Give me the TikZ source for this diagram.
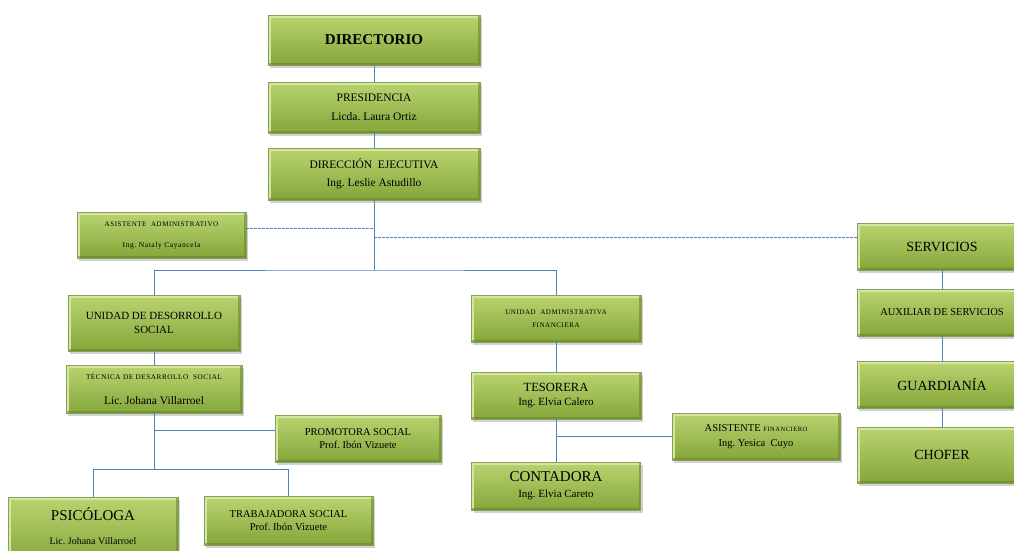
\documentclass[tikz,border=0pt]{standalone}
\usepackage{fontspec}
\setmainfont{Liberation Serif}
\usetikzlibrary{shadows}
\definecolor{lnblue}{RGB}{79,129,189}
\definecolor{gtop}{RGB}{186,212,112}
\definecolor{gbot}{RGB}{132,166,58}
\definecolor{glight}{RGB}{212,230,160}
\definecolor{gdark}{RGB}{105,135,45}
\newcommand{\tinycaps}[1]{\fontsize{#1}{8}\selectfont\addfontfeature{LetterSpace=8}}
\newcommand{\plainsize}[1]{\fontsize{#1}{13}\selectfont\addfontfeature{LetterSpace=0}}
\tikzset{
 box/.style={rectangle, inner sep=2pt, align=center, top color=gtop, bottom color=gbot,
   draw=gdark!80, line width=0.4pt,
   drop shadow={shadow xshift=2pt, shadow yshift=-2.5pt, opacity=0.35},
   path picture={\draw[glight, line width=5pt] (path picture bounding box.south west) |- (path picture bounding box.north east);
                 \draw[gdark, line width=4pt, opacity=.6] (path picture bounding box.south west) -| (path picture bounding box.north east);}},
 wh/.style 2 args={minimum width=#1pt, minimum height=#2pt},
 conn/.style={draw=lnblue, line width=0.9pt},
 dconn/.style={conn, dash pattern=on 2.5pt off 1.5pt},
}
\begin{document}
\begin{tikzpicture}[x=1pt,y=-1pt]
\path[use as bounding box, fill=white] (0,0) rectangle (1014,550);
\clip (0,0) rectangle (1014,550);

\node[box, wh={212}{50}, font=\fontsize{15}{18}\selectfont\bfseries] (dir) at (374,40) {DIRECTORIO};
\node[box, wh={212}{51}, font=\fontsize{11.5}{19}\selectfont] (pres) at (374,107.5) {PRESIDENCIA\\Licda.\ Laura Ortiz};
\node[box, wh={212}{52}, font=\fontsize{11.5}{18}\selectfont] (dej) at (374,174) {DIRECCIÓN\ \ EJECUTIVA\\Ing.\ Leslie Astudillo};
\node[box, wh={169}{46}, font=\tinycaps{7}] (asis) at (161.5,235) {ASISTENTE\ \ ADMINISTRATIVO\\[13pt]{\fontsize{7.5}{8}\selectfont Ing.\ Nataly Cayancela}};

\node[box, wh={170}{47}, font=\fontsize{14}{16}\selectfont] (serv) at (942,246.5) {SERVICIOS};
\node[box, wh={170}{47}, font=\fontsize{10.5}{12}\selectfont] (aux) at (942,312.5) {AUXILIAR DE SERVICIOS};
\node[box, wh={170}{47}, font=\fontsize{14}{16}\selectfont] (guard) at (942,384.5) {GUARDIANÍA};
\node[box, wh={170}{56}, font=\fontsize{14}{16}\selectfont] (chof) at (942,455) {CHOFER};

\node[box, wh={172}{56}, font=\fontsize{11}{14}\selectfont] (uds) at (154,323) {UNIDAD DE DESORROLLO\\SOCIAL};
\node[box, wh={176}{48}, font=\tinycaps{7.2}] (tec) at (154,389) {TÉCNICA DE DESARROLLO\ \ SOCIAL\\[15pt]{\plainsize{11.5}Lic.\ Johana Villarroel}};
\node[box, wh={166}{47}, font=\fontsize{10.5}{12.5}\selectfont] (prom) at (358,438.5) {PROMOTORA SOCIAL\\Prof.\ Ibón Vizuete};
\node[box, wh={170}{66},
  label={[font=\fontsize{10}{12}\selectfont, align=center, yshift=4pt]center:{{\fontsize{15}{18}\selectfont PSICÓLOGA}\\[12pt]Lic.\ Johana Villarroel}}]
  (psico) at (93,530) {};
\node[box, wh={169}{49}, font=\fontsize{10.5}{12.5}\selectfont] (trab) at (288.5,520.5) {TRABAJADORA SOCIAL\\Prof.\ Ibón Vizuete};

\node[box, wh={170}{47}, font=\tinycaps{7}] (uaf) at (556,318.5) {UNIDAD\ \ ADMINISTRATIVA\\[5pt]FINANCIERA};
\node[box, wh={170}{47}, font=\fontsize{11}{14}\selectfont] (tes) at (556,395.5) {{\fontsize{12.5}{15}\selectfont TESORERA}\\Ing.\ Elvia Calero};
\node[box, wh={169}{48}, font=\fontsize{11}{16}\selectfont] (cont) at (556,486) {{\fontsize{15}{16}\selectfont CONTADORA}\\Ing.\ Elvia Careto};
\node[box, wh={168}{47}, font=\fontsize{10.5}{15}\selectfont] (asisf) at (756,436.5) {ASISTENTE {\tinycaps{6.5}FINANCIERO}\\Ing.\ Yesica\ \ Cuyo};

% connectors
\draw[conn] (dir.south) -- (pres.north);
\draw[conn] (pres.south) -- (dej.north);
\coordinate (b1) at (374,270);
\draw[conn] (dej.south) -- (b1);
\draw[conn] (uds.north) |- (b1) -| (uaf.north);
\coordinate (a1) at ([yshift=7pt]asis.east);
\draw[dconn] (a1) -- (a1 -| dej.south);
\coordinate (s1) at ([yshift=9pt]serv.west);
\draw[dconn] (s1 -| dej.south) -- (s1);
\draw[conn] (serv) -- (aux);
\draw[conn] (aux) -- (guard);
\draw[conn] (guard) -- (chof);
\draw[conn] (uds) -- (tec);
\coordinate (b2) at (154,469);
\draw[conn] (tec.south) -- (b2);
\coordinate (p1) at ([yshift=8pt]prom.west);
\draw[conn] (p1) -- (p1 -| tec.south);
\draw[conn] (psico.north) |- (b2) -| (trab.north);
\draw[conn] (uaf) -- (tes);
\draw[conn] (tes) -- (cont);
\draw[conn] (asisf.west) -- (asisf.west -| tes.south);
\end{tikzpicture}
\end{document}
